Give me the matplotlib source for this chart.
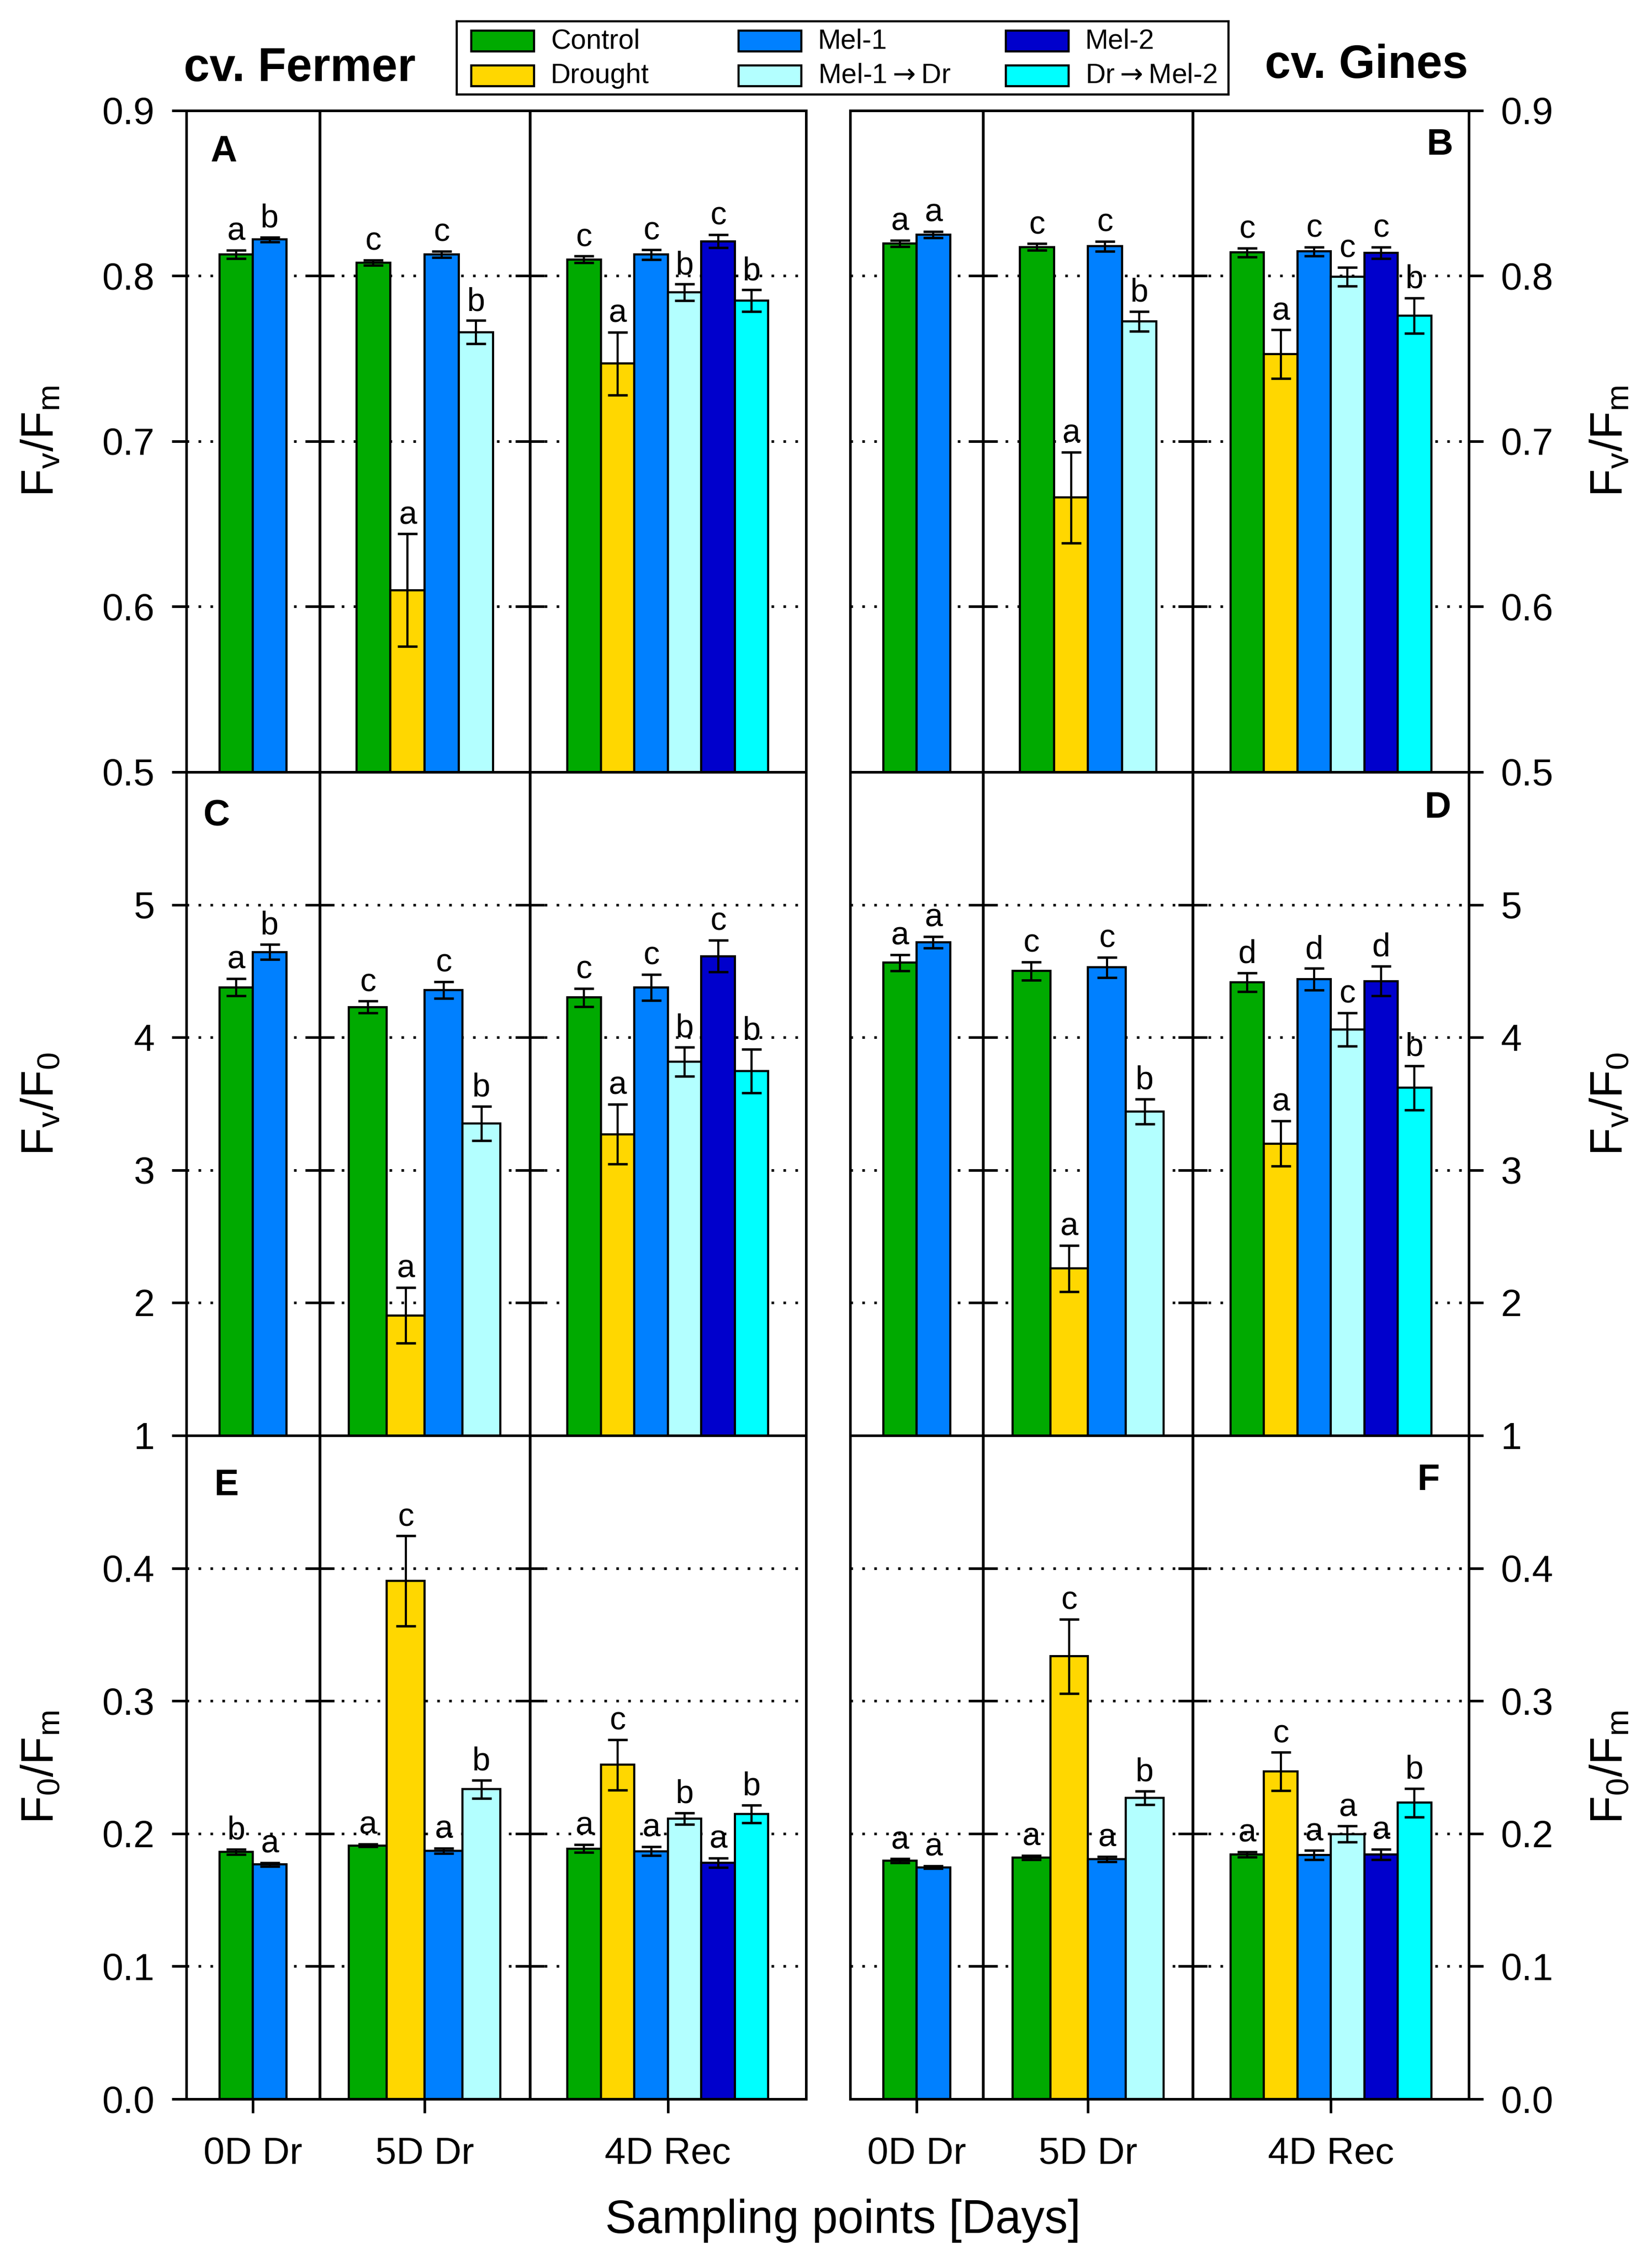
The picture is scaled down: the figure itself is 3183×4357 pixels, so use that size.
import numpy as np
import matplotlib
matplotlib.use("Agg")
import matplotlib.pyplot as plt
from matplotlib.patches import Rectangle

plt.rcParams["font.family"] = ["Liberation Sans", "DejaVu Sans"]
plt.rcParams["mathtext.fontset"] = "custom"
plt.rcParams["mathtext.rm"] = "Liberation Sans"
plt.rcParams["mathtext.it"] = "Liberation Sans:italic"
plt.rcParams["mathtext.bf"] = "Liberation Sans:bold"

# ---- data ----
groups = ["0D Dr", "5D Dr", "4D Rec"]
treatments = ["Control", "Drought", "Mel-1", r"Mel-1$\rightarrow$Dr", "Mel-2", r"Dr$\rightarrow$Mel-2"]
colors = ["#00aa00", "#ffd700", "#0080ff", "#b3ffff", "#0000cc", "#00ffff"]
members = [[0, 2], [0, 1, 2, 3], [0, 1, 2, 3, 4, 5]]

fvfm_fermer = [[0.813, 0.822], [0.808, 0.610, 0.813, 0.766], [0.810, 0.747, 0.813, 0.790, 0.821, 0.785]]
fvfm_fermer_err = [[0.0025, 0.0015], [0.0015, 0.034, 0.002, 0.007], [0.002, 0.019, 0.003, 0.005, 0.004, 0.0066]]
fvfm_fermer_let = [["a", "b"], ["c", "a", "c", "b"], ["c", "a", "c", "b", "c", "b"]]

fvfm_gines = [[0.8196, 0.825], [0.8175, 0.666, 0.818, 0.7725], [0.8142, 0.7527, 0.8148, 0.7995, 0.814, 0.776]]
fvfm_gines_err = [[0.002, 0.002], [0.002, 0.0275, 0.003, 0.006], [0.0027, 0.0147, 0.0027, 0.0057, 0.0035, 0.0107]]
fvfm_gines_let = [["a", "a"], ["c", "a", "c", "b"], ["c", "a", "c", "c", "c", "b"]]

fvf0_fermer = [[4.378, 4.644], [4.228, 1.905, 4.357, 3.351], [4.301, 3.271, 4.378, 3.816, 4.612, 3.746]]
fvf0_fermer_err = [[0.066, 0.058], [0.045, 0.21, 0.063, 0.13], [0.068, 0.225, 0.098, 0.11, 0.12, 0.163]]
fvf0_fermer_let = [["a", "b"], ["c", "a", "c", "b"], ["c", "a", "c", "b", "c", "b"]]

fvf0_gines = [[4.563, 4.717], [4.50, 2.258, 4.528, 3.442], [4.417, 3.20, 4.438, 4.06, 4.424, 3.62]]
fvf0_gines_err = [[0.061, 0.044], [0.07, 0.175, 0.077, 0.093], [0.07, 0.17, 0.082, 0.126, 0.112, 0.165]]
fvf0_gines_let = [["a", "a"], ["c", "a", "c", "b"], ["d", "a", "d", "c", "d", "b"]]

f0fm_fermer = [[0.1863, 0.1767], [0.1911, 0.3903, 0.1871, 0.2334], [0.1887, 0.2519, 0.1867, 0.2113, 0.1779, 0.2149]]
f0fm_fermer_err = [[0.002, 0.0015], [0.001, 0.034, 0.002, 0.0068], [0.003, 0.019, 0.0034, 0.0044, 0.0036, 0.0066]]
f0fm_fermer_let = [["b", "a"], ["a", "c", "a", "b"], ["a", "c", "a", "b", "a", "b"]]

f0fm_gines = [[0.1795, 0.1746], [0.1819, 0.3336, 0.1807, 0.227], [0.1843, 0.2467, 0.1839, 0.1996, 0.1843, 0.2233]]
f0fm_gines_err = [[0.0015, 0.001], [0.0015, 0.028, 0.002, 0.005], [0.002, 0.0145, 0.0034, 0.006, 0.0038, 0.0107]]
f0fm_gines_let = [["a", "a"], ["a", "c", "a", "b"], ["a", "c", "a", "a", "a", "b"]]

row_ylims = [(0.5, 0.9), (1, 6), (0.0, 0.5)]
row_ticks = [[0.5, 0.6, 0.7, 0.8, 0.9], [1, 2, 3, 4, 5], [0.0, 0.1, 0.2, 0.3, 0.4]]
row_fmt = ["{:.1f}", "{:.0f}", "{:.1f}"]
row_labels = [r"$\mathrm{F_v/F_m}$", r"$\mathrm{F_v/F_0}$", r"$\mathrm{F_0/F_m}$"]

# ---- layout ----
W, H = 3183, 4357
fig = plt.figure(figsize=(W / 300, H / 300), dpi=300)

seps = [0, 3.98, 10.25, 18.5]
centers = [(seps[i] + seps[i + 1]) / 2 for i in range(3)]
bar_w = [[1.0, 1.02, 1.0], [1.0, 1.13, 1.0], [1.0, 1.13, 1.0]]

col_x = [(359, 1194), (1638, 1192)]
row_y = [(213, 1487), (1487, 2765), (2765, 4043)]

panels = [
    [(fvfm_fermer, fvfm_fermer_err, fvfm_fermer_let, "A"), (fvfm_gines, fvfm_gines_err, fvfm_gines_let, "B")],
    [(fvf0_fermer, fvf0_fermer_err, fvf0_fermer_let, "C"), (fvf0_gines, fvf0_gines_err, fvf0_gines_let, "D")],
    [(f0fm_fermer, f0fm_fermer_err, f0fm_fermer_let, "E"), (f0fm_gines, f0fm_gines_err, f0fm_gines_let, "F")],
]
tag_pos = {"A": (0.039, 0.923), "B": (0.974, 0.933), "C": (0.027, 0.919),
           "D": (0.971, 0.931), "E": (0.045, 0.910), "F": (0.953, 0.918)}

for r in range(3):
    ylo, yhi = row_ylims[r]
    inner = [t for t in row_ticks[r] if ylo < t < yhi]
    for c in range(2):
        means, errs, lets, tag = panels[r][c]
        x0, w = col_x[c]
        t0, t1 = row_y[r]
        ax = fig.add_axes([x0 / W, 1 - t1 / H, w / W, (t1 - t0) / H])
        ax.set_xlim(seps[0], seps[-1])
        ax.set_ylim(ylo, yhi)
        for t in inner:
            ax.axhline(t, color="k", lw=1.2, ls=(0, (1, 3.6)), zorder=0)
        for s in seps[1:-1]:
            ax.axvline(s, color="k", lw=1.3, zorder=1)
            ax.plot([s] * len(inner), inner, ls="none", marker="_", ms=13.5, mew=1.2, color="k", zorder=1)
        for g in range(3):
            n = len(members[g])
            bw = bar_w[r][g]
            xs = centers[g] + (np.arange(n) - (n - 1) / 2) * bw
            ax.bar(xs, means[g], width=bw, color=[colors[i] for i in members[g]],
                   edgecolor="k", linewidth=1.0, zorder=2)
            ax.errorbar(xs, means[g], yerr=errs[g], fmt="none", ecolor="k",
                        elinewidth=1.0, capsize=4.5, capthick=1.1, zorder=3)
            for xi, m, e, l in zip(xs, means[g], errs[g], lets[g]):
                ax.annotate(l, (xi, m + e), xytext=(0, 1.5), textcoords="offset points",
                            ha="center", va="bottom", fontsize=15, zorder=4)
        for sp in ax.spines.values():
            sp.set_linewidth(1.2)
        ax.set_yticks(row_ticks[r])
        ax.set_yticklabels([row_fmt[r].format(t) for t in row_ticks[r]])
        if c == 1:
            ax.yaxis.tick_right()
        ax.tick_params(axis="y", direction="out", length=6.7, width=1.2, labelsize=17.5, pad=8)
        ax.set_xticks(centers)
        if r == 2:
            ax.set_xticklabels(groups)
        else:
            ax.set_xticklabels([])
        ax.tick_params(axis="x", direction="out", length=6.5, width=1.2, labelsize=17.5, pad=11)
        tx, ty = tag_pos[tag]
        ax.text(tx, ty, tag, transform=ax.transAxes, fontsize=17, fontweight="bold",
                ha="left" if c == 0 else "right", va="baseline")
        yc = 1 - (t0 + t1) / 2 / H
        fig.text(80 / W if c == 0 else 3103 / W, yc, row_labels[r], rotation=90,
                 ha="center", va="center", fontsize=21)

fig.text(354 / W, 1 - 156 / H, "cv. Fermer", fontsize=21.5, fontweight="bold", ha="left", va="baseline")
fig.text(2829 / W, 1 - 150 / H, "cv. Gines", fontsize=21.5, fontweight="bold", ha="right", va="baseline")
fig.text(1624 / W, 1 - 4277 / H, "Sampling points [Days]", fontsize=21.5, ha="center", va="center")

# ---- legend box (3 columns x 2 rows) ----
lx, ly, lw_, lh = 880, 41, 1487, 141
lax = fig.add_axes([lx / W, 1 - (ly + lh) / H, lw_ / W, lh / H])
lax.set_xlim(0, lw_)
lax.set_ylim(lh, 0)
lax.set_xticks([])
lax.set_yticks([])
for sp in lax.spines.values():
    sp.set_linewidth(1.0)
leg_cols = [28, 543, 1058]
leg_rows = [38, 105]
for i, name in enumerate(treatments):
    cx = leg_cols[i // 2]
    cy = leg_rows[i % 2]
    lax.add_patch(Rectangle((cx, cy - 20), 121, 40, facecolor=colors[i], edgecolor="k", lw=1.0))
    lax.text(cx + 153, cy, name, fontsize=12.8, ha="left", va="center", math_fontfamily="dejavusans")

fig.savefig("out.png", dpi=300)
